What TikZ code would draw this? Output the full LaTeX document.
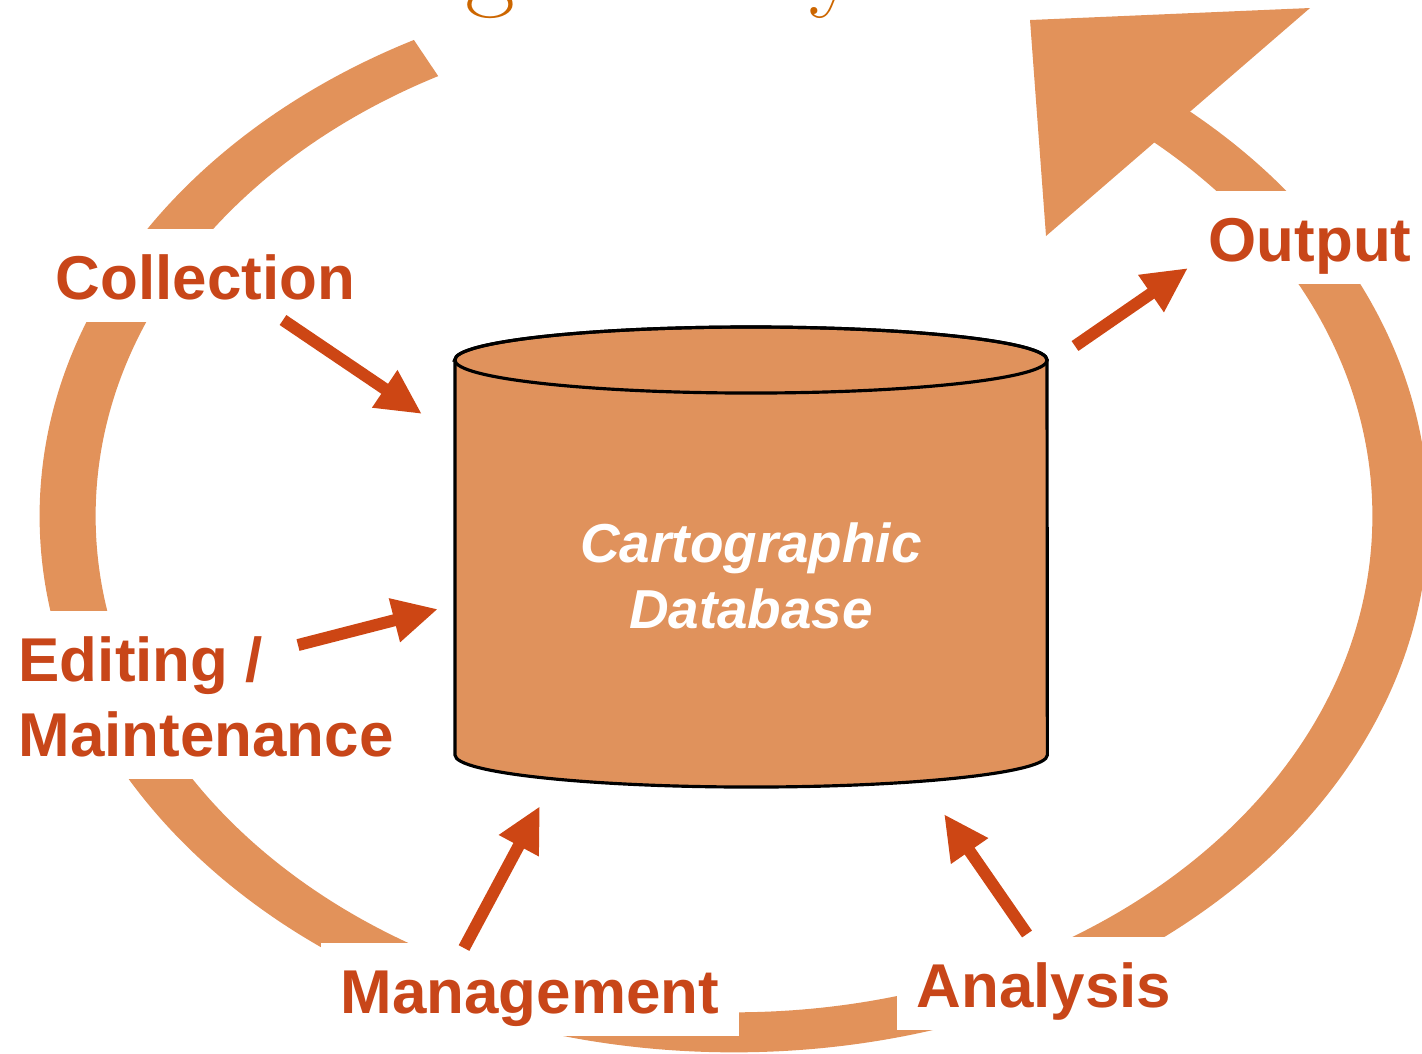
\documentclass[tikz,border=0pt]{standalone}
\usepackage{fontspec}
\usetikzlibrary{arrows.meta}
\newfontfamily\lblfont{Liberation Sans}
\definecolor{ringorange}{RGB}{226,146,90}
\definecolor{dbfill}{RGB}{224,146,92}
\definecolor{arrowred}{RGB}{205,70,20}
\definecolor{labelred}{RGB}{200,70,25}
\definecolor{titleorange}{RGB}{204,102,0}
\newcommand{\topstrut}{\rule{0pt}{0.71cm}}
\newcommand{\botstrut}{\rule[-0.22cm]{0pt}{0pt}}
\tikzset{
  stage/.style={fill=white, text=labelred, anchor=north west, align=left,
    inner xsep=0.2cm, inner ysep=0pt,
    font=\lblfont\bfseries\fontsize{17.6}{21.3}\selectfont},
  feed/.style={draw=arrowred, line width=0.12cm,
    -{Triangle[length=0.45cm,width=0.42cm]}},
}

\begin{document}
\begin{tikzpicture}[x=0.01cm, y=-0.01cm]
  \useasboundingbox (0,0) rectangle (1422,1053);
  % Define the two ellipses of the ring
  \def\ringout{(734,516) ellipse [x radius=6.94cm, y radius=5.36cm]}
  \def\ringin{(734,516) ellipse [x radius=6.38cm, y radius=4.96cm]}

  % Cycle ring, open at the top
  \begin{scope}
    \clip (734,516) -- (110,-412) -- (-500,-412) -- (-500,1600) -- (2000,1600)
      -- (2000,-306) -- (1586,-306) -- cycle;
    \fill[ringorange, even odd rule] \ringout \ringin;
  \end{scope}
  \fill[ringorange] (1030,20) -- (1310,8) -- (1046,236) -- cycle; % head of the ring

  % Database cylinder
  \filldraw[fill=dbfill, draw=black, line width=0.9pt] (455,360) -- (455,755)
    arc[start angle=180, end angle=360, x radius=2.96cm, y radius=0.32cm]
    -- (1047,360)
    arc[start angle=0, end angle=180, x radius=2.96cm, y radius=0.33cm] -- cycle;
  \draw[line width=0.9pt] (751,360) ellipse [x radius=2.96cm, y radius=0.33cm];
  \node[text=white, align=center, anchor=north, inner sep=0pt,
    font=\lblfont\bfseries\itshape\fontsize{15.6}{18.8}\selectfont]
    (db) at (751,522) {Cartographic\\Database};

  % Stages round the database (white boxes cut the ring)
  \node[stage] (coll) at (35,228) {\topstrut\botstrut Collection};
  \node[stage] (edit) at (-2,610) {\topstrut Editing /\\Maintenance\botstrut};
  \node[stage] (mgmt) at (320,942) {\topstrut\botstrut Management};
  \node[stage] (anal) at (896,936) {\topstrut\botstrut Analysis};
  \node[stage] (outp) at (1188,190) {\topstrut\botstrut Output};

  % Arrows into and out of the database
  \coordinate (coll-a) at (283,320);  \coordinate (coll-b) at (422,414);
  \coordinate (edit-a) at (298,645);  \coordinate (edit-b) at (438,609);
  \coordinate (mgmt-a) at (464,948);  \coordinate (mgmt-b) at (540,806);
  \coordinate (anal-a) at (1027,934); \coordinate (anal-b) at (944,814);
  \coordinate (outp-a) at (1075,346); \coordinate (outp-b) at (1188,268);
  \draw[feed] (coll-a) -- (coll-b);
  \draw[feed] (edit-a) -- (edit-b);
  \draw[feed] (mgmt-a) -- (mgmt-b);
  \draw[feed] (anal-a) -- (anal-b);
  \draw[feed] (outp-a) -- (outp-b);

  % Slide title, cut by the top edge
  \begin{scope}
    \clip (0,0) rectangle (1422,1053);
    \node[anchor=base west, inner sep=0pt, text=titleorange,
      font=\fontsize{30.9}{33}\selectfont] (title) at (193,-4) {Editing Theory};
  \end{scope}
\end{tikzpicture}
\end{document}
